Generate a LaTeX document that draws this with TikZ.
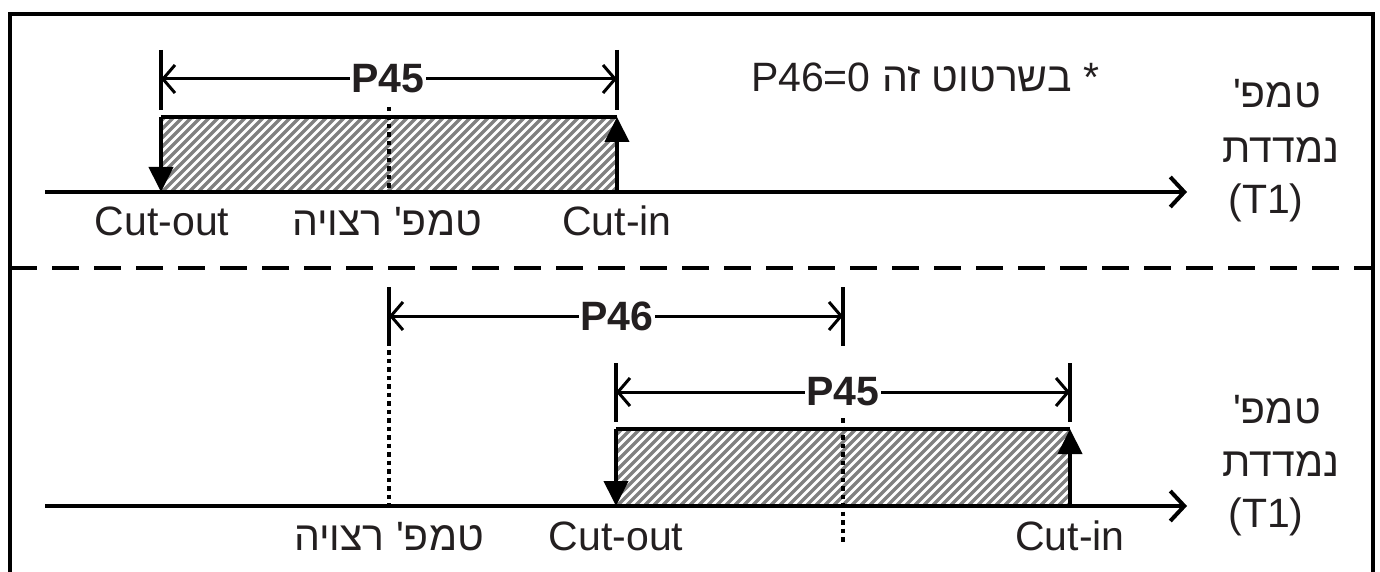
\documentclass[tikz,border=0pt]{standalone}
\usepackage{fontspec}
\setmainfont{Liberation Sans}
\newfontfamily\hebfont[Script=Hebrew]{Liberation Sans}
\usepackage{xcolor}
\usepackage{tikz}
\usetikzlibrary{arrows.meta, positioning, calc}
\TeXXeTstate=1
\definecolor{clrHatch}{HTML}{808080}
\definecolor{clrInk}{HTML}{000000}
\definecolor{clrText}{HTML}{231F20}
\tikzset{
  axis line/.style={line width=4pt, clrInk, -{Straight Barb[length=14pt, width=30pt]}},
  edge line/.style={line width=4pt, clrInk},
  cut arr/.style={line width=4pt, clrInk, -{Triangle[length=25pt, width=24pt]}},
  dim line/.style={line width=3pt, clrInk, {Straight Barb[length=12pt, width=28pt]}-{Straight Barb[length=12pt, width=28pt]}},
  dim tick/.style={line width=3.2pt, clrInk},
  set line/.style={line width=4pt, clrInk, dash pattern=on 4.5pt off 4pt},
  split line/.style={line width=4pt, clrInk, dash pattern=on 27pt off 15pt},
  stripe/.style={line width=3.3pt, clrHatch},
  lbl/.style={font=\fontsize{41}{50}\selectfont, text=clrText, inner sep=0pt},
  dim lbl/.style={font=\fontsize{41}{50}\selectfont\bfseries, text=clrText, fill=white, inner sep=2pt},
}
\newcommand{\heb}[1]{{\hebfont\beginR #1\endR}}

\begin{document}
\begin{tikzpicture}[x=1pt, y=-1pt]
  \useasboundingbox (0,0) rectangle (1380,572);

  % Frame and split
  \coordinate (frameBL) at (10,574);
  \coordinate (frameTL) at (10,14);
  \coordinate (frameTR) at (1373,14);
  \coordinate (frameBR) at (1373,574);
  \draw[edge line] (frameBL) -- (frameTL) -- (frameTR) -- (frameBR);
  \coordinate (splitL) at (10,268);
  \coordinate (splitR) at (1373,268);
  \draw[split line] (splitL) -- (splitR);

  % Upper band: P46 = 0
  \coordinate (axStartA) at (45,192);
  \coordinate (axEndA) at (1187,192);
  \coordinate (outA) at (161,192);
  \coordinate (inA) at (617,192);
  \coordinate (outTopA) at (161,117);
  \coordinate (inTopA) at (617,117);
  \coordinate (setA) at (389,192);
  \coordinate (setTopA) at (389,107);

  \begin{scope}
    \clip (outTopA) rectangle (inA);
    \foreach \s in {0,9,...,540}
      \draw[stripe] ($(outA)+(\s-80,0)$) -- ++(80,-80);
  \end{scope}
  \draw[set line] (setTopA) -- (setA);
  \draw[edge line] (outTopA) -- (inTopA);
  \draw[cut arr] (outTopA) -- (outA);
  \draw[cut arr] (inA) -- (inTopA);
  \draw[axis line] (axStartA) -- (axEndA);

  \coordinate (tickA1) at (161,50);
  \coordinate (tickA2) at (161,110);
  \coordinate (tickA3) at (617,50);
  \coordinate (tickA4) at (617,110);
  \draw[dim tick] (tickA1) -- (tickA2);
  \draw[dim tick] (tickA3) -- (tickA4);
  \coordinate (dimAL) at (161,79);
  \coordinate (dimAR) at (617,79);
  \draw[dim line] (dimAL) -- (dimAR);
  \node[dim lbl] (bandA) at (388,79) {P45};

  \node[lbl, anchor=base] (outLblA) at (162,235) {Cut-out};
  \node[lbl, anchor=base] (setLblA) at (387,235) {\heb{טמפ' רצויה}};
  \node[lbl, anchor=base] (inLblA) at (617,235) {Cut-in};
  \node[lbl] (noteA) at (925,77) {\heb{* בשרטוט זה \beginL P46=0\endL}};
  \node[lbl, anchor=base] (measA1) at (1277,108) {\heb{טמפ'}};
  \node[lbl, anchor=base] (measA2) at (1281,163) {\heb{נמדדת}};
  \node[lbl, anchor=base] (measA3) at (1266,213) {(T1)};

  % Lower band: P46 shift
  \coordinate (axStartB) at (45,506);
  \coordinate (axEndB) at (1187,506);
  \coordinate (outB) at (616,506);
  \coordinate (inB) at (1070,506);
  \coordinate (outTopB) at (616,429);
  \coordinate (inTopB) at (1070,429);
  \coordinate (setTopB) at (389,350);
  \coordinate (setB) at (389,506);
  \coordinate (midTopB) at (843,418);
  \coordinate (midB) at (843,542);

  \begin{scope}
    \clip (outTopB) rectangle (inB);
    \foreach \s in {0,9,...,540}
      \draw[stripe] ($(outB)+(\s-80,0)$) -- ++(80,-80);
  \end{scope}
  \draw[set line] (setTopB) -- (setB);
  \draw[set line] (midTopB) -- (midB);
  \draw[edge line] (outTopB) -- (inTopB);
  \draw[cut arr] (outTopB) -- (outB);
  \draw[cut arr] (inB) -- (inTopB);
  \draw[axis line] (axStartB) -- (axEndB);

  \coordinate (tickB1) at (389,287);
  \coordinate (tickB2) at (389,346);
  \coordinate (tickB3) at (843,287);
  \coordinate (tickB4) at (843,346);
  \draw[dim tick] (tickB1) -- (tickB2);
  \draw[dim tick] (tickB3) -- (tickB4);
  \coordinate (dimBL) at (389,316);
  \coordinate (dimBR) at (843,316);
  \draw[dim line] (dimBL) -- (dimBR);
  \node[dim lbl] (shiftB) at (617,316) {P46};

  \coordinate (tickB5) at (616,363);
  \coordinate (tickB6) at (616,422);
  \coordinate (tickB7) at (1070,363);
  \coordinate (tickB8) at (1070,422);
  \draw[dim tick] (tickB5) -- (tickB6);
  \draw[dim tick] (tickB7) -- (tickB8);
  \coordinate (dimCL) at (616,392);
  \coordinate (dimCR) at (1070,392);
  \draw[dim line] (dimCL) -- (dimCR);
  \node[dim lbl] (bandB) at (843,392) {P45};

  \node[lbl, anchor=base] (setLblB) at (389,550) {\heb{טמפ' רצויה}};
  \node[lbl, anchor=base] (outLblB) at (616,550) {Cut-out};
  \node[lbl, anchor=base] (inLblB) at (1070,550) {Cut-in};
  \node[lbl, anchor=base] (measB1) at (1277,423) {\heb{טמפ'}};
  \node[lbl, anchor=base] (measB2) at (1281,476) {\heb{נמדדת}};
  \node[lbl, anchor=base] (measB3) at (1266,527) {(T1)};
\end{tikzpicture}
\end{document}
